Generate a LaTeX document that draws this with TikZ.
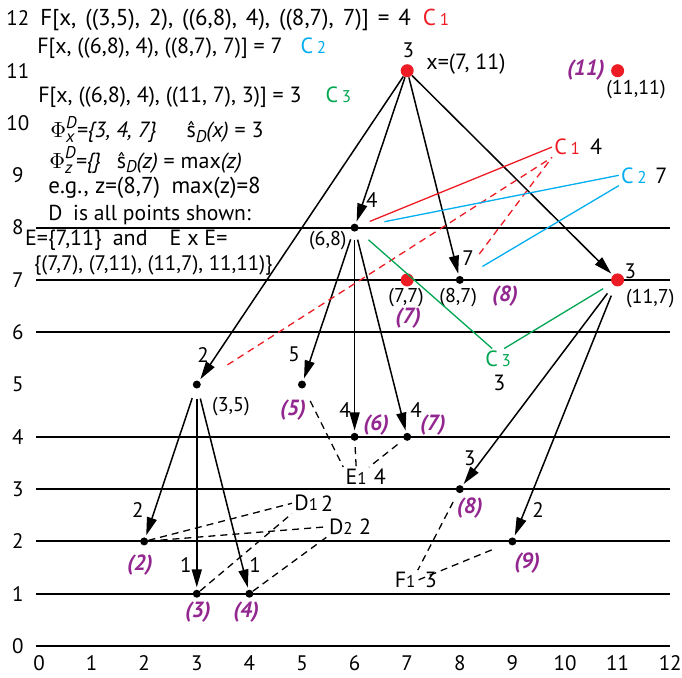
\documentclass[tikz,border=0pt]{standalone}
\usepackage{fontspec}
\setmainfont{PT Sans}
\usepackage{xcolor}
\usetikzlibrary{arrows.meta,positioning}
\definecolor{cred}{RGB}{237,28,36}
\definecolor{ccyan}{RGB}{0,174,239}
\definecolor{cgreen}{RGB}{0,166,81}
\definecolor{cpurple}{RGB}{146,39,143}
\newcommand{\idxno}[1]{{\fontsize{8.5}{10}\selectfont #1}}
\newcommand{\smallit}[1]{{\fontsize{8.5}{9}\selectfont\itshape #1}}
\newcommand{\phiset}[1]{\(\Phi\)\rlap{\raisebox{-0.45ex}{\smallit{#1}}}\raisebox{0.85ex}{\smallit{D}}}
\newcommand{\shat}{ŝ\raisebox{-0.4ex}{\smallit{D}}}

\begin{document}
\begin{tikzpicture}[
    x=26.3pt,
    y=26.15pt,
    font=\fontsize{10.5}{12}\selectfont,
    dot/.style={circle,fill=black,inner sep=0pt,minimum size=4pt},
    reddot/.style={circle,fill=cred,inner sep=0pt,minimum size=6.5pt},
    level/.style={line width=1pt},
    arrow/.style={-{Triangle[length=9pt,width=5pt]},line width=0.75pt,shorten >=1pt},
    link/.style={dash pattern=on 3.5pt off 2.5pt,line width=0.65pt},
    cline/.style={line width=0.65pt},
    num/.style={inner sep=1pt},
    coord/.style={inner sep=1pt,font=\fontsize{10}{12}\selectfont},
    idx/.style={inner sep=1pt,text=cpurple,font=\fontsize{11}{13}\selectfont\bfseries\itshape},
    tag/.style={inner sep=1pt,font=\fontsize{11}{13}\selectfont},
    formula/.style={anchor=west,inner sep=0pt,font=\fontsize{11}{13}\selectfont}
]
\useasboundingbox (-0.741,-0.593) rectangle (12.224,12.352);

\foreach \y in {0,1,2,3,4,6,7,8}
    \draw[level] (-0.05,\y) -- (12,\y);
\foreach \y in {0,...,12}
    \node[num] (ylab\y) at (-0.4,\y) {\y};
\foreach \x in {0,...,12}
    \node[num] (xlab\x) at (\x,-0.33) {\x};

\node[formula,font=\fontsize{11.5}{13}\selectfont] (fc1) at (0.02,11.97) {\spaceskip=4.5pt F[x, ((3,5), 2), ((6,8), 4), ((8,7), 7)] = 4\hspace{6pt}{\color{cred}C\,\idxno{1}}};
\node[formula] (fc2) at (-0.04,11.43) {F[x, ((6,8), 4), ((8,7), 7)] = 7\hspace{9pt}{\color{ccyan}C\,\idxno{2}}};
\node[formula] (fc3) at (-0.02,10.50) {F[x, ((6,8), 4), ((11, 7), 3)] = 3\hspace{12pt}{\color{cgreen}C\,\idxno{3}}};
\node[formula] (phix) at (0.21,9.87) {\phiset{x}\textit{=\{3, 4, 7\}}\hspace{15pt}\shat\textit{(x)} = 3};
\node[formula] (phiz) at (0.19,9.29) {\phiset{z}\textit{=\{\}}\hspace{8pt}\shat\textit{(z)} = max\textit{(z)}};
\node[formula,font=\fontsize{11.5}{13}\selectfont] (eg) at (0.17,8.76) {e.g., z=(8,7)\enspace max(z)=8};
\node[formula,font=\fontsize{10.8}{13}\selectfont] (dall) at (0.17,8.24) {D\enspace is all points shown:};
\node[formula] (eset) at (-0.27,7.76) {E=\{7,11\}\enspace and\quad E x E=};
\node[formula,font=\fontsize{10.5}{12}\selectfont] (eprod) at (-0.1,7.28) {\{(7,7), (7,11), (11,7), 11,11)\}};

\node[reddot] (p711) at (7,11) {};
\node[reddot] (p1111) at (11,11) {};
\node[dot] (p68) at (6,8) {};
\node[reddot] (p77) at (7,7) {};
\node[dot] (p87) at (8,7) {};
\node[reddot] (p117) at (11,7) {};
\node[dot] (p35) at (3,5) {};
\node[dot] (p55) at (5,5) {};
\node[dot] (p64) at (6,4) {};
\node[dot] (p74) at (7,4) {};
\node[dot] (p83) at (8,3) {};
\node[dot] (p22) at (2,2) {};
\node[dot] (p92) at (9,2) {};
\node[dot] (p31) at (3,1) {};
\node[dot] (p41) at (4,1) {};

\node[num] (w711) at (7.02,11.40) {3};
\node[tag,anchor=west] (x711) at (7.32,11.13) {x=(7, 11)};
\node[idx,anchor=east] (i11) at (10.80,11.01) {(11)};
\node[coord] (x1111) at (11.35,10.63) {(11,11)};
\node[num] (w68) at (6.33,8.53) {4};
\node[coord] (x68) at (5.49,7.76) {(6,8)};
\node[coord] (x77) at (6.98,6.67) {(7,7)};
\node[idx] (i7a) at (7.02,6.27) {(7)};
\node[num] (w87) at (8.16,7.42) {7};
\node[coord] (x87) at (7.97,6.67) {(8,7)};
\node[idx] (i8a) at (8.86,6.69) {(8)};
\node[num] (w117) at (11.24,7.17) {3};
\node[coord] (x117) at (11.62,6.65) {(11,7)};
\node[num] (w35) at (3.12,5.56) {2};
\node[coord] (x35) at (3.65,4.57) {(3,5)};
\node[num] (w55) at (4.85,5.58) {5};
\node[idx] (i5) at (4.83,4.51) {(5)};
\node[num] (w64) at (5.82,4.51) {4};
\node[idx] (i6) at (6.41,4.23) {(6)};
\node[num] (w74) at (7.17,4.51) {4};
\node[idx] (i7b) at (7.49,4.23) {(7)};
\node[num] (w83) at (8.19,3.59) {3};
\node[idx] (i8b) at (8.19,2.64) {(8)};
\node[num] (w22) at (1.88,2.60) {2};
\node[idx] (i2) at (1.92,1.55) {(2)};
\node[num] (w92) at (9.49,2.60) {2};
\node[idx] (i9) at (9.28,1.59) {(9)};
\node[num] (w31) at (2.79,1.55) {1};
\node[idx] (i3) at (3.02,0.65) {(3)};
\node[num] (w41) at (4.11,1.55) {1};
\node[idx] (i4) at (3.94,0.65) {(4)};

\node[tag,text=cred] (c1) at (10.04,9.54) {C\,\idxno{1}};
\node[tag] (c1w) at (10.59,9.54) {4};
\node[tag,text=ccyan] (c2) at (11.31,9.00) {C\,\idxno{2}};
\node[tag] (c2w) at (11.83,9.00) {7};
\node[tag,text=cgreen] (c3) at (8.73,5.49) {C\,\idxno{3}};
\node[tag] (c3w) at (8.75,5.03) {3};
\node[tag] (e1) at (6.03,3.23) {E\idxno{1}};
\node[tag] (e1w) at (6.48,3.23) {4};
\node[tag] (d1) at (5.08,2.73) {D\idxno{1}};
\node[tag] (d1w) at (5.48,2.73) {2};
\node[tag] (d2) at (5.74,2.28) {D\idxno{2}};
\node[tag] (d2w) at (6.20,2.28) {2};
\node[tag] (f1) at (6.96,1.26) {F\idxno{1}};
\node[tag] (f1w) at (7.45,1.26) {3};

\draw[arrow] (p711) -- (p35);
\draw[arrow] (p711) -- (p68);
\draw[arrow] (p711) -- (p87);
\draw[arrow] (p711) -- (p117);
\draw[arrow,shorten <=4pt] (p68) -- (p55);
\draw[arrow,shorten <=4pt] (p68) -- (p64);
\draw[arrow,shorten <=4pt] (p68) -- (p74);
\draw[arrow,shorten <=5pt] (p117) -- (p83);
\draw[arrow,shorten <=5pt] (p117) -- (p92);
\draw[arrow,shorten <=5pt] (p35) -- (p22);
\draw[arrow,shorten <=5pt] (p35) -- (p31);
\draw[arrow,shorten <=5pt] (p35) -- (p41);

\draw[cline,cred,shorten <=6pt] (p68) -- (c1.west);
\draw[link,cred,shorten <=16pt] (p35) -- (c1.south west);
\draw[link,cred,shorten <=14pt] (p87) -- (c1.south west);
\draw[cline,ccyan,shorten <=13pt] (p68) -- (c2.west);
\draw[cline,ccyan,shorten <=11pt] (p87) -- (c2.south west);
\draw[cline,cgreen,shorten <=7pt] (p68) -- ([xshift=-3pt]c3.north);
\draw[cline,cgreen,shorten <=5pt] (p117) -- ([xshift=3pt]c3.north);

\draw[link,shorten <=7pt] (p55) -- (e1.north west);
\draw[link,shorten <=3pt] (p64) -- (e1.north);
\draw[link,shorten <=4pt] (p74) -- (e1.north east);
\draw[link] (p22) -- (d1.west);
\draw[link] (p31) -- (d1.south west);
\draw[link] (p22) -- (d2.west);
\draw[link] (p41) -- (d2.south west);
\draw[link,shorten <=5pt] (p83) -- (f1.north east);
\draw[link,shorten <=9pt] (p92) -- (f1.east);

\end{tikzpicture}
\end{document}
